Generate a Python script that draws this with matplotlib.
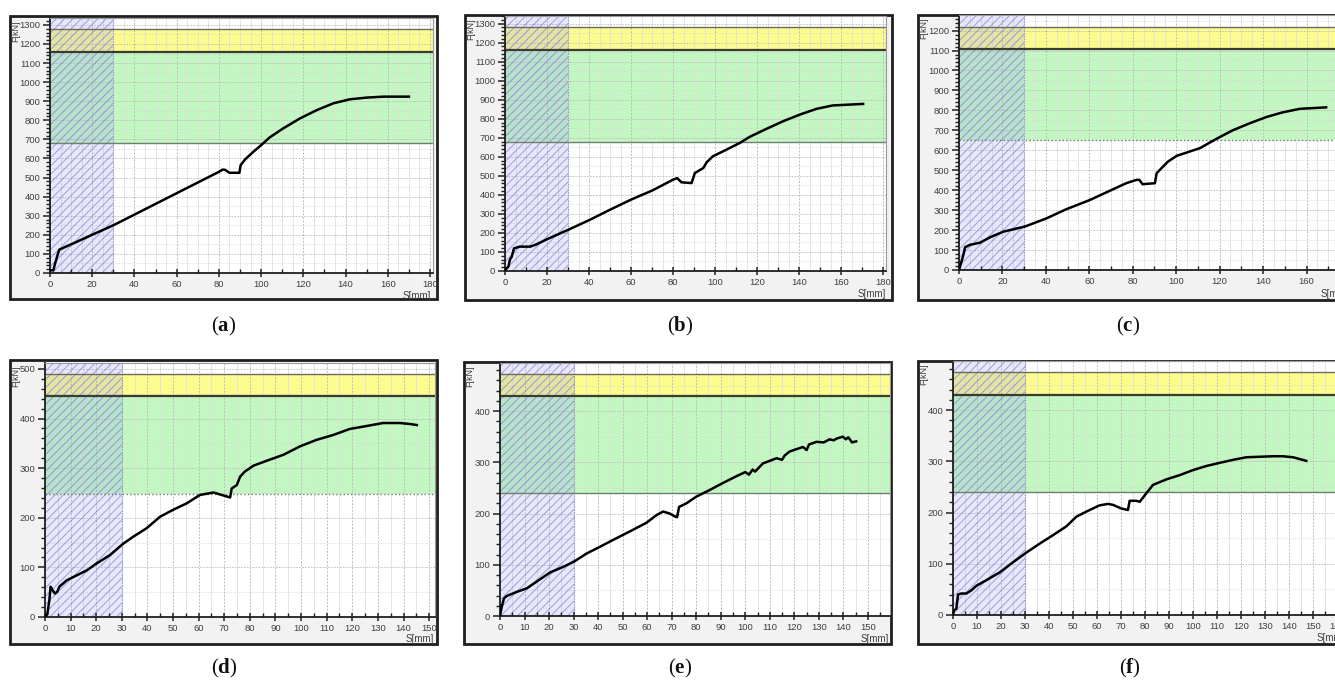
import matplotlib
matplotlib.use("Agg")
import matplotlib.pyplot as plt
from matplotlib.patches import Rectangle
from matplotlib.ticker import MultipleLocator
import numpy as np

plt.rcParams['mathtext.fontset'] = 'custom'
plt.rcParams['mathtext.rm'] = 'Liberation Serif'
plt.rcParams['mathtext.bf'] = 'Liberation Serif:bold'
plt.rcParams['hatch.linewidth'] = 0.7

# ---------------- data ----------------
a_s = [0, 1.6, 2.4, 4.0, 4.4, 7.9, 12.6, 20.5, 30, 40, 50, 60, 70, 80, 81.8, 83, 85, 89.7, 90.3, 92.4,
       96.3, 100, 104, 110.5, 118.4, 126.3, 134.2, 142, 150, 158, 170]
a_f = [14, 14, 49, 110, 122, 140, 163, 203, 250, 306, 362, 418, 474, 530, 542, 540, 525, 525, 565, 595,
       635, 670, 710, 758, 810, 853, 889, 910, 919, 924, 924]

b_s = [0, 1.6, 2.4, 3.2, 4.3, 7, 12, 15, 20, 30, 40.4, 50, 60, 70.5, 80, 82, 84, 88.8, 90.4, 94.4,
       96, 99, 105.5, 111.8, 116.5, 124.5, 132.4, 140.4, 148.3, 156, 170.5]
b_f = [5, 23, 61, 75, 119, 128, 128, 140, 167, 216, 269, 322, 375, 425, 480, 488, 466, 462, 515, 541,
       571, 603, 638, 673, 705, 747, 787, 822, 852, 870, 878]

c_s = [0, 0.9, 2, 2.8, 5, 9.7, 14.3, 20.4, 30.4, 40.3, 49.5, 60.3, 71, 77, 81.8, 83, 84.5, 90.2, 91, 94,
       96.3, 100.2, 106.3, 111, 115.5, 120, 126, 134, 141.6, 149, 157, 169]
c_f = [0, 33, 75, 114, 126, 137, 164, 192, 218, 259, 305, 351, 405, 435, 452, 452, 430, 435, 485, 519,
       544, 572, 594, 611, 639, 666, 700, 736, 767, 790, 808, 815]

d_s = [0, 0.9, 1.7, 2.2, 3, 3.9, 4.8, 5.6, 8.5, 12.4, 16.3, 20.2, 25.4, 30.6, 34.5, 39.7, 44.9, 50, 55.3,
       60.5, 65.8, 69, 72.3, 72.9, 74.9, 76.2, 78, 81.4, 86.6, 93.1, 99.6, 106, 112.6, 119, 125.6, 132,
       138.7, 142.6, 145.2]
d_f = [1, 5, 34, 61, 54, 47, 51, 61, 74, 84, 94, 108, 125, 148, 162, 179, 202, 216, 229,
       246, 251, 246, 241, 259, 266, 283, 293, 305, 315, 327, 344, 357, 367, 379, 385, 391,
       391, 389, 387]

e_s = [0, 0.7, 1.6, 2.7, 6.8, 10.9, 14.9, 20.4, 25.8, 30.1, 35.3, 40.7, 47.5, 52.9, 59.7, 63.8, 66.5,
       69.2, 71.5, 72.2, 73, 76, 80, 85.5, 91, 96.4, 100, 101.5, 103, 104, 107.2, 110, 112.7, 115, 116,
       118, 121, 123.5, 125, 126, 129, 132, 134.4, 136, 137.5, 139.8, 141, 142, 143.5, 145.2]
e_f = [0, 18, 34, 39, 47, 54, 67, 85, 96, 106, 122, 135, 152, 165, 182, 197, 204,
       200, 194, 193, 213, 220, 233, 246, 260, 273, 281, 276, 286, 282, 298, 303, 308, 305, 313,
       321, 326, 330, 324, 335, 340, 339, 345, 343, 347, 350, 345, 349, 339, 341]

f_s = [0, 0.4, 1.4, 2.1, 3.5, 5.6, 7.6, 9.7, 13.9, 19.4, 25, 30.6, 36, 41.7, 47.2, 51.4, 55.6, 61, 64.6,
       66.7, 70.1, 72.9, 73.6, 76.4, 77.8, 80.6, 83.3, 89, 94.4, 100, 105.6, 111, 116.7, 122.2, 127.8,
       133.3, 137.5, 141.7, 147.2]
f_f = [0, 9, 12, 40, 42, 42, 48, 57, 68, 83, 103, 122, 139, 156, 173, 192, 202, 214, 217,
       215, 208, 205, 223, 223, 221, 238, 254, 265, 273, 283, 291, 297, 303, 308, 309,
       310, 310, 308, 301]

captions = ['a', 'b', 'c', 'd', 'e', 'f']
green_low = [680, 680, 650, 248, 240, 240]
green_high = [1160, 1160, 1108, 445, 430, 430]
yellow_high = [1280, 1280, 1218, 490, 472, 475]
hatch_end = [30, 30, 30, 30, 30, 30]
x_label = 'S[mm]'
y_label = 'F[kN]'

series = [(a_s, a_f), (b_s, b_f), (c_s, c_f), (d_s, d_f), (e_s, e_f), (f_s, f_f)]

# ---------------- layout (pixels) ----------------
W, H = 1335, 680
layout = [
    dict(frame=(10, 16, 437, 299), ax=(50, 18, 433, 273), xlim=(0, 181.4), ylim=(0, 1336), xmaj=20, xmin=10,
         slab=(431, 296, 'right'), cap=(224, 326)),
    dict(frame=(465, 15, 892, 300), ax=(505, 16, 886, 271), xlim=(0, 181.4), ylim=(0, 1340), xmaj=20, xmin=10,
         slab=(886, 294, 'right'), cap=(680, 326)),
    dict(frame=(918, 15, 1362, 300), ax=(959, 15, 1353, 270), xlim=(0, 181.4), ylim=(0, 1278), xmaj=20, xmin=10,
         slab=(1321, 294, 'left'), cap=(1128, 326)),
    dict(frame=(10, 360, 437, 644), ax=(45, 363, 435, 617), xlim=(0, 152.3), ylim=(0, 512), xmaj=10, xmin=5,
         slab=(434, 639, 'right'), cap=(224, 668)),
    dict(frame=(464, 362, 891, 644), ax=(500, 363, 890, 616), xlim=(0, 159), ylim=(0, 494), xmaj=10, xmin=5,
         slab=(889, 639, 'right'), cap=(680, 668)),
    dict(frame=(918, 361, 1362, 644), ax=(953, 361, 1349, 615), xlim=(0, 165), ylim=(0, 496), xmaj=10, xmin=5,
         slab=(1317, 638, 'left'), cap=(1130, 668)),
]

fig = plt.figure(figsize=(W / 100, H / 100), dpi=100)
fig.patch.set_facecolor('white')


def fx(x):
    return x / W


def fy(y):
    return 1 - y / H


for i, (L, (s, f)) in enumerate(zip(layout, series)):
    x0, y0, x1, y1 = L['frame']
    fig.add_artist(Rectangle((fx(x0), fy(y1)), fx(x1 - x0), (y1 - y0) / H, transform=fig.transFigure,
                             facecolor='#f2f2f2', edgecolor='#1e1e1e', lw=2.0, zorder=0))
    l, t, r, b = L['ax']
    ax = fig.add_axes([fx(l), fy(b), fx(r - l), (b - t) / H])
    ax.set_facecolor('white')
    ax.set_xlim(*L['xlim'])
    ax.set_ylim(*L['ylim'])

    # bands
    ax.axhspan(green_low[i], green_high[i], color='#c2f7c2', lw=0, zorder=0.2)
    ax.axhspan(green_high[i], yellow_high[i], color='#fbfb8e', lw=0, zorder=0.2)
    ax.axhline(yellow_high[i], color='#6b6b5e', lw=1.0, zorder=0.9)
    ax.axhline(green_high[i], color='#3b3b2e', lw=1.6, zorder=0.9)
    ax.axhline(green_low[i], color='#6f7f6f', lw=1.0, ls='-' if i in (0, 1, 4, 5) else ':', zorder=0.9)

    # grid
    for gx in np.arange(0, L['xlim'][1], 5):
        major = abs(gx / L['xmaj'] - round(gx / L['xmaj'])) < 1e-6
        ax.axvline(gx, color='#bdbdbd' if major else '#e0e0e0', lw=0.7 if major else 0.6,
                   ls=(0, (2, 1.5)) if major else '-', zorder=0.5)
    for gy in np.arange(50, L['ylim'][1], 50):
        major = abs(gy % 100) < 1e-6
        ax.axhline(gy, color='#bcbcbc' if major else '#d4d4d4', lw=0.6,
                   ls=(0, (2, 1.5)) if major else (0, (1, 1.5)), zorder=0.5)

    # hatched region
    ax.axvspan(0, hatch_end[i], facecolor=(0.6, 0.6, 0.92, 0.22), edgecolor=(0.42, 0.42, 0.85, 0.6),
               hatch='////', lw=0, zorder=0.6)
    ax.axvline(hatch_end[i], color='#9a9ad6', lw=0.8, ls=(0, (1.5, 1)), zorder=0.7)

    # curve
    ax.plot(s, f, color='black', lw=1.8, zorder=3, solid_joinstyle='round')

    # ticks
    ax.xaxis.set_major_locator(MultipleLocator(L['xmaj']))
    ax.xaxis.set_minor_locator(MultipleLocator(L['xmin']))
    ax.yaxis.set_major_locator(MultipleLocator(100))
    ax.yaxis.set_minor_locator(MultipleLocator(20))
    ax.tick_params(axis='x', which='major', direction='inout', length=6, width=1.1, color='#202020',
                   pad=2, labelcolor='#404040', labelsize=6.8)
    ax.tick_params(axis='x', which='minor', direction='in', length=3, width=1.0, color='#202020')
    ax.tick_params(axis='y', which='major', direction='out', length=5, width=1.1, color='#202020',
                   pad=2, labelcolor='#404040', labelsize=6.8)
    ax.tick_params(axis='y', which='minor', direction='out', length=3, width=1.0, color='#202020')
    for lab in ax.get_xticklabels() + ax.get_yticklabels():
        lab.set_fontfamily('Liberation Sans')
    for side in ('left', 'bottom'):
        ax.spines[side].set_color('#1e1e1e')
        ax.spines[side].set_linewidth(1.3)
    for side in ('top', 'right'):
        ax.spines[side].set_color('#9a9a9a')
        ax.spines[side].set_linewidth(0.8)

    # axis labels
    fig.text(fx(x0 + 6), fy(t + 2), y_label, rotation=90, ha='center', va='top', color='#404040',
             fontsize=6.5, fontfamily='Liberation Sans')
    sx, sy, sha = L['slab']
    fig.text(fx(sx), fy(sy), x_label, ha=sha, va='center', color='#404040', fontsize=7,
             fontfamily='Liberation Sans')

    # caption
    cx, cy = L['cap']
    fig.text(fx(cx), fy(cy), '(' + r'$\mathbf{' + captions[i] + '}$' + ')', ha='center', va='center',
             fontsize=15, fontfamily='Liberation Serif', color='#111111')

fig.savefig('out.png', dpi=100, facecolor='white')
